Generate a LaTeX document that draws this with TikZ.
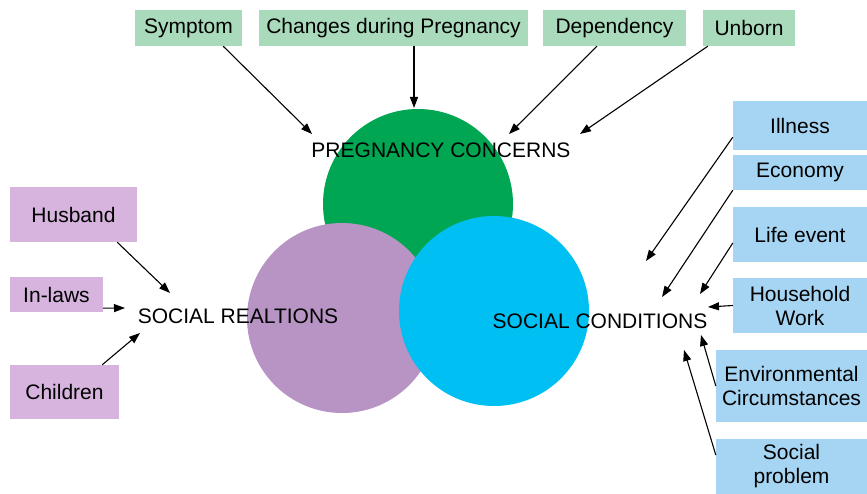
\documentclass[tikz,border=0pt]{standalone}
\usepackage{fontspec}
\setmainfont{Liberation Sans}
\usetikzlibrary{arrows.meta, positioning}
\definecolor{pgreen}{HTML}{00A651}
\definecolor{plilac}{HTML}{B794C4}
\definecolor{pcyan}{HTML}{00BFF3}
\definecolor{boxgreen}{HTML}{A9DABB}
\definecolor{boxlilac}{HTML}{D6B4DD}
\definecolor{boxblue}{HTML}{A6D5F3}

\begin{document}
\begin{tikzpicture}[x=1pt, y=-1pt, font=\fontsize{21}{24}\selectfont]
        \tikzset{
        box/.style      = {rectangle, inner sep=0pt, align=center},
        greenbox/.style = {box, fill=boxgreen, minimum height=36pt},
        lilacbox/.style = {box, fill=boxlilac},
        bluebox/.style  = {box, fill=boxblue},
        blob/.style     = {circle, inner sep=0pt, minimum size=190pt},
        line/.style     = {line width=1.1pt, -{Triangle[length=11pt, width=8pt]}}
        }
        \useasboundingbox (0,0) rectangle (867,494);

        % Circles
        \node[blob, fill=pgreen] (pregnancy) at (418,204) {};
        \node[blob, fill=plilac] (relations) at (342,318) {};
        \node[blob, fill=pcyan] (conditions) at (494,311) {};

        \node (pclabel) at (441,150) {PREGNANCY CONCERNS};
        \node (srlabel) at (238,316) {SOCIAL REALTIONS};
        \node (sclabel) at (600,321) {SOCIAL CONDITIONS};

        % Top boxes
        \node[greenbox, minimum width=107pt] (symptom) at (188.5,28) {Symptom};
        \node[greenbox, minimum width=269pt] (changes) at (393.5,28) {Changes during Pregnancy};
        \node[greenbox, minimum width=143pt] (dependency) at (614.5,28) {Dependency};
        \node[greenbox, minimum width=92pt] (unborn) at (749,28) {Unborn};

        % Left boxes
        \node[lilacbox, minimum width=127pt, minimum height=55pt] (husband) at (73.5,214.5) {Husband};
        \node[lilacbox, minimum width=93pt, minimum height=35pt] (inlaws) at (56.5,294.5) {In-laws};
        \node[lilacbox, minimum width=109pt, minimum height=54pt] (children) at (64.5,392) {Children};

        % Right boxes
        \node[bluebox, minimum width=134pt, minimum height=49pt] (illness) at (800,125.5) {Illness};
        \node[bluebox, minimum width=134pt, minimum height=35pt] (economy) at (800,172.5) {Economy};
        \node[bluebox, minimum width=134pt, minimum height=55pt] (lifeevent) at (800,234.5) {Life event};
        \node[bluebox, minimum width=134pt, minimum height=55pt] (household) at (800,305.5) {Household\\Work};
        \node[bluebox, minimum width=151pt, minimum height=72pt] (environment) at (791.5,386) {Environmental\\Circumstances};
        \node[bluebox, minimum width=151pt, minimum height=55pt] (socialproblem) at (791.5,466.5) {Social\\problem};

        % Arrow tips
        \coordinate (pc1) at (312,134);
        \coordinate (pc2) at (414,108);
        \coordinate (pc3) at (509,134);
        \coordinate (pc4) at (580,134);
        \coordinate (sr1) at (170,293);
        \coordinate (sr2) at (125,308);
        \coordinate (sr3) at (140,333);
        \coordinate (sc1) at (646,261);
        \coordinate (sc2) at (662,297);
        \coordinate (sc3) at (700,294);
        \coordinate (sc4) at (708,307);
        \coordinate (sc5) at (701,335);
        \coordinate (sc6) at (684,350);

        % Connections
        \draw[line] ([xshift=-19pt]symptom.south east) -- (pc1);
        \draw[line] ([xshift=20.5pt]changes.south) -- (pc2);
        \draw[line] ([xshift=-17.5pt]dependency.south) -- (pc3);
        \draw[line] ([xshift=5pt]unborn.south west) -- (pc4);

        \draw[line] ([xshift=-20pt]husband.south east) -- (sr1);
        \draw[line] ([yshift=4pt]inlaws.south east) -- (sr2);
        \draw[line] ([xshift=-17pt]children.north east) -- (sr3);

        \draw[line] ([yshift=13pt]illness.south west) -- (sc1);
        \draw[line] (economy.south west) -- (sc2);
        \draw[line] ([yshift=-8.5pt]lifeevent.west) -- (sc3);
        \draw[line] (household.west) -- (sc4);
        \draw[line] (environment.west) -- (sc5);
        \draw[line] ([yshift=11.5pt]socialproblem.west) -- (sc6);
    \end{tikzpicture}
\end{document}
